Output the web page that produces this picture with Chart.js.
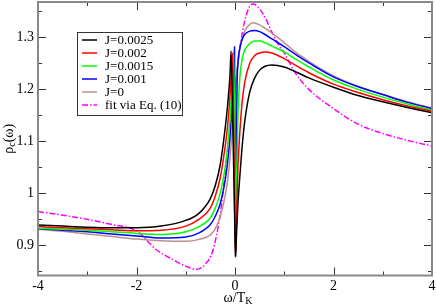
<!DOCTYPE html>
<html>
<head>
<meta charset="utf-8">
<script src="https://cdn.jsdelivr.net/npm/chart.js@4/dist/chart.umd.min.js"></script>
<style>
  body { margin: 0; background: #fff; }
  #wrap { width: 436px; height: 305px; }
</style>
</head>
<body>
<div id="wrap"><canvas id="rhoChart" width="436" height="305"></canvas></div>
<script>
// omega / T_K values and rho_c for each coupling J
const xJ0025 = [-4, -3.5, -3, -2.5, -2, -1.5, -1, -0.75, -0.5, -0.4, -0.3, -0.2, -0.15, -0.1, -0.08, -0.04, 0, 0.01, 0.03, 0.06, 0.1, 0.15, 0.2, 0.3, 0.4, 0.5, 0.6, 0.75, 1, 1.25, 1.5, 2, 2.5, 3, 3.5, 4];
const yJ0025 = [0.939, 0.937, 0.935, 0.934, 0.934, 0.937, 0.948, 0.96, 0.99, 1.015, 1.055, 1.125, 1.17, 1.23, 1.274, 1.11, 0.92, 0.879, 0.92, 0.98, 1.035, 1.095, 1.14, 1.195, 1.222, 1.237, 1.244, 1.247, 1.243, 1.233, 1.222, 1.204, 1.188, 1.176, 1.165, 1.155];

const xJ002 = [-4, -3.5, -3, -2.5, -2, -1.5, -1, -0.75, -0.5, -0.4, -0.3, -0.2, -0.15, -0.1, -0.07, -0.05, -0.02, 0.01, 0.03, 0.06, 0.1, 0.15, 0.2, 0.3, 0.4, 0.5, 0.6, 0.75, 1, 1.25, 1.5, 2, 2.5, 3, 3.5, 4];
const yJ002 = [0.936, 0.934, 0.932, 0.93, 0.928, 0.929, 0.937, 0.949, 0.972, 0.995, 1.03, 1.09, 1.13, 1.19, 1.235, 1.27, 1.08, 0.878, 0.95, 1.05, 1.12, 1.18, 1.215, 1.25, 1.265, 1.27, 1.272, 1.27, 1.259, 1.245, 1.232, 1.21, 1.194, 1.18, 1.168, 1.158];

const xJ0015 = [-4, -3.5, -3, -2.5, -2, -1.5, -1, -0.75, -0.5, -0.4, -0.3, -0.2, -0.15, -0.1, -0.06, -0.03, 0, 0.01, 0.03, 0.06, 0.1, 0.15, 0.2, 0.3, 0.4, 0.5, 0.6, 0.75, 1, 1.25, 1.5, 2, 2.5, 3, 3.5, 4];
const yJ0015 = [0.933, 0.931, 0.929, 0.926, 0.923, 0.921, 0.926, 0.935, 0.953, 0.972, 1.0, 1.05, 1.09, 1.145, 1.21, 1.275, 1.05, 0.878, 1.02, 1.15, 1.225, 1.26, 1.276, 1.288, 1.293, 1.293, 1.29, 1.283, 1.272, 1.257, 1.243, 1.218, 1.2, 1.185, 1.172, 1.16];

const xJ001 = [-4, -3.5, -3, -2.5, -2, -1.5, -1, -0.75, -0.5, -0.4, -0.3, -0.2, -0.15, -0.1, -0.05, -0.01, 0.005, 0.01, 0.02, 0.04, 0.06, 0.1, 0.15, 0.2, 0.3, 0.4, 0.5, 0.6, 0.75, 1, 1.25, 1.5, 2, 2.5, 3, 3.5, 4];
const yJ001 = [0.932, 0.929, 0.926, 0.922, 0.918, 0.914, 0.916, 0.923, 0.94, 0.956, 0.98, 1.025, 1.06, 1.11, 1.19, 1.282, 1.0, 0.878, 1.0, 1.2, 1.25, 1.28, 1.297, 1.306, 1.312, 1.313, 1.311, 1.306, 1.297, 1.282, 1.266, 1.251, 1.224, 1.205, 1.19, 1.175, 1.163];

const xJ0 = [-4, -3.5, -3, -2.5, -2, -1.5, -1, -0.75, -0.5, -0.4, -0.3, -0.2, -0.15, -0.1, -0.05, 0, 0.05, 0.1, 0.15, 0.2, 0.3, 0.36, 0.5, 0.6, 0.75, 1, 1.25, 1.5, 2, 2.5, 3, 3.5, 4];
const yJ0 = [0.931, 0.927, 0.922, 0.917, 0.912, 0.909, 0.908, 0.911, 0.92, 0.932, 0.955, 0.995, 1.025, 1.07, 1.13, 1.19, 1.245, 1.28, 1.3, 1.313, 1.325, 1.328, 1.324, 1.318, 1.308, 1.29, 1.27, 1.254, 1.226, 1.206, 1.19, 1.176, 1.164];

const xFit = [-4, -3.5, -3, -2.5, -2, -1.6, -1.25, -1, -0.78, -0.6, -0.45, -0.3, -0.2, -0.1, 0, 0.1, 0.2, 0.3, 0.37, 0.45, 0.6, 0.75, 0.9, 1, 1.2, 1.5, 2, 2.5, 3, 3.5, 4];
const yFit = [0.965, 0.958, 0.95, 0.94, 0.928, 0.892, 0.872, 0.86, 0.854, 0.864, 0.89, 0.96, 1.04, 1.13, 1.2, 1.28, 1.333, 1.36, 1.364, 1.36, 1.34, 1.31, 1.283, 1.27, 1.235, 1.2, 1.163, 1.133, 1.115, 1.102, 1.091];

const seriesLabels = ["J=0.0025", "J=0.002", "J=0.0015", "J=0.001", "J=0", "fit via Eq. (10)"];

const xMajor = [-4, -2, 0, 2, 4];
const xMinor = [-3, -1, 1, 3];
const yMajor = [0.9, 1, 1.1, 1.2, 1.3];
const yMinor = [0.85, 0.95, 1.05, 1.15, 1.25, 1.35];

const serif = "'Liberation Serif', 'DejaVu Serif', serif";

const toPoints = (xs, ys) => xs.map((x, i) => ({ x: x, y: ys[i] }));

const curve = (label, xs, ys, color, dash) => ({
  label: label,
  data: toPoints(xs, ys),
  borderColor: color,
  backgroundColor: color,
  borderWidth: 1.5,
  borderDash: dash || [],
  pointRadius: 0,
  fill: false,
  cubicInterpolationMode: "monotone",
});

// frame, inward ticks, axis titles and the boxed legend
const framePlugin = {
  id: "framePlugin",
  afterDraw(chart) {
    const { ctx, chartArea: a, scales } = chart;
    const x = scales.x, y = scales.y;
    ctx.save();

    ctx.strokeStyle = "#333";
    ctx.lineWidth = 1;
    ctx.beginPath();
    xMajor.concat(xMinor).forEach((v) => {
      const px = Math.round(x.getPixelForValue(v)) + 0.5;
      const len = xMajor.includes(v) ? 8 : 4;
      ctx.moveTo(px, a.bottom); ctx.lineTo(px, a.bottom - len);
      ctx.moveTo(px, a.top); ctx.lineTo(px, a.top + len);
    });
    yMajor.concat(yMinor).forEach((v) => {
      const py = Math.round(y.getPixelForValue(v)) + 0.5;
      const len = yMajor.includes(v) ? 8 : 4;
      ctx.moveTo(a.left, py); ctx.lineTo(a.left + len, py);
      ctx.moveTo(a.right, py); ctx.lineTo(a.right - len, py);
    });
    ctx.stroke();

    ctx.strokeStyle = "#888";
    ctx.lineWidth = 2;
    ctx.strokeRect(a.left, a.top, a.right - a.left, a.bottom - a.top);

    // x title: omega / T_K
    ctx.fillStyle = "#000";
    ctx.textBaseline = "alphabetic";
    ctx.font = "14px " + serif;
    const w1 = ctx.measureText("ω/T").width;
    ctx.font = "10px " + serif;
    const w2 = ctx.measureText("K").width;
    let tx = (a.left + a.right) / 2 + 3 - (w1 + w2) / 2;
    ctx.font = "14px " + serif;
    ctx.textAlign = "left";
    ctx.fillText("ω/T", tx, 302);
    ctx.font = "10px " + serif;
    ctx.fillText("K", tx + w1, 304);

    // y title: rho_c(omega)
    ctx.save();
    ctx.translate(13, (a.top + a.bottom) / 2);
    ctx.rotate(-Math.PI / 2);
    ctx.font = "14px " + serif;
    const r1 = ctx.measureText("ρ").width;
    const r3 = ctx.measureText("(ω)").width;
    ctx.font = "10px " + serif;
    const r2 = ctx.measureText("c").width;
    let ty = -(r1 + r2 + r3) / 2;
    ctx.font = "14px " + serif;
    ctx.fillText("ρ", ty, 0);
    ctx.font = "10px " + serif;
    ctx.fillText("c", ty + r1, 2);
    ctx.font = "14px " + serif;
    ctx.fillText("(ω)", ty + r1 + r2, 0);
    ctx.restore();

    // legend
    const box = { left: 77.5, top: 32.5, right: 182.5, bottom: 115.5 };
    ctx.fillStyle = "#fff";
    ctx.fillRect(box.left, box.top, box.right - box.left, box.bottom - box.top);
    ctx.strokeStyle = "#333";
    ctx.lineWidth = 1;
    ctx.strokeRect(box.left, box.top, box.right - box.left, box.bottom - box.top);
    ctx.font = "13px " + serif;
    ctx.textBaseline = "middle";
    chart.data.datasets.forEach((ds, i) => {
      const ly = 40 + i * 13;
      ctx.strokeStyle = ds.borderColor;
      ctx.lineWidth = 1.5;
      ctx.setLineDash(ds.borderDash);
      ctx.beginPath();
      ctx.moveTo(82, ly);
      ctx.lineTo(97, ly);
      ctx.stroke();
      ctx.setLineDash([]);
      ctx.fillStyle = "#000";
      ctx.fillText(ds.label, 105, ly + 0.5);
    });

    ctx.restore();
  },
};

new Chart(document.getElementById("rhoChart"), {
  type: "line",
  data: {
    datasets: [
      curve(seriesLabels[0], xJ0025, yJ0025, "#000000"),
      curve(seriesLabels[1], xJ002, yJ002, "#ff0000"),
      curve(seriesLabels[2], xJ0015, yJ0015, "#00ff00"),
      curve(seriesLabels[3], xJ001, yJ001, "#0000ff"),
      curve(seriesLabels[4], xJ0, yJ0, "#bc8f8f"),
      curve(seriesLabels[5], xFit, yFit, "#ff00ff", [6, 2, 1.5, 2]),
    ],
  },
  options: {
    responsive: false,
    animation: false,
    devicePixelRatio: 1,
    layout: { padding: { left: 0, right: 4, top: 2, bottom: 0 } },
    plugins: { legend: { display: false }, tooltip: { enabled: false } },
    scales: {
      x: {
        type: "linear",
        min: -4,
        max: 4,
        afterBuildTicks: (scale) => {
          scale.ticks = xMajor.concat(xMinor).sort((a, b) => a - b).map((v) => ({ value: v }));
        },
        afterFit: (scale) => {
          scale.height = 29.5;
          scale.paddingLeft = 0;
          scale.paddingRight = 0;
        },
        grid: { display: false, drawTicks: false },
        border: { display: false },
        ticks: {
          autoSkip: false,
          maxRotation: 0,
          padding: 2,
          color: "#000",
          font: { family: serif, size: 14 },
          callback: (v) => (xMajor.includes(v) ? String(v) : ""),
        },
      },
      y: {
        type: "linear",
        min: 0.842,
        max: 1.368,
        afterBuildTicks: (scale) => {
          scale.ticks = yMajor.concat(yMinor).sort((a, b) => a - b).map((v) => ({ value: v }));
        },
        afterFit: (scale) => {
          scale.width = 38;
          scale.paddingTop = 0;
          scale.paddingBottom = 0;
        },
        grid: { display: false, drawTicks: false },
        border: { display: false },
        ticks: {
          autoSkip: false,
          padding: 4,
          color: "#000",
          font: { family: serif, size: 14 },
          callback: (v) => (yMajor.includes(v) ? String(v) : ""),
        },
      },
    },
  },
  plugins: [framePlugin],
});
</script>
</body>
</html>
